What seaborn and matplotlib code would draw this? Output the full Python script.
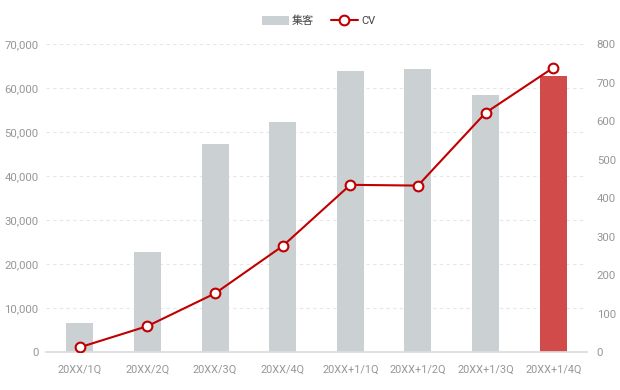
import matplotlib
matplotlib.use("Agg")
import matplotlib.pyplot as plt
from matplotlib.lines import Line2D
from matplotlib.patches import Patch
from matplotlib.ticker import FuncFormatter, MultipleLocator
import seaborn as sns
import pandas as pd

categories = ["20XX/1Q", "20XX/2Q", "20XX/3Q", "20XX/4Q",
              "20XX+1/1Q", "20XX+1/2Q", "20XX+1/3Q", "20XX+1/4Q"]
visits = [6600, 22800, 47300, 52300, 63900, 64500, 58500, 62800]
cv = [13, 68, 153, 276, 435, 433, 622, 739]
bar_label = "集客"
line_label = "CV"

sns.set_theme(style="white")
plt.rcParams["font.family"] = ["Roboto", "Noto Sans CJK JP", "DejaVu Sans"]

W, H = 620, 390
fig = plt.figure(figsize=(W / 100, H / 100), dpi=100)
left, right, top, bottom = 46, 587, 44.3, 352.3
ax = fig.add_axes([left / W, 1 - bottom / H, (right - left) / W, (bottom - top) / H])

df = pd.DataFrame({"cat": categories, "visits": visits, "cv": cv})
grey = "#cbd0d3"
red_bar = "#d24b4b"
line_red = "#c00000"
txt = "#969696"
palette = [grey] * (len(categories) - 1) + [red_bar]

sns.barplot(data=df, x="cat", y="visits", hue="cat", palette=palette,
            legend=False, width=0.4, ax=ax, saturation=1, linewidth=0)
ax.set_xlim(-0.5, len(categories) - 0.5)
ax.set_ylim(0, 70000)
ax.yaxis.set_major_locator(MultipleLocator(10000))
ax.yaxis.set_major_formatter(FuncFormatter(lambda v, p: f"{int(v):,}"))
ax.grid(axis="y", color="#e6e6e6", linestyle=(0, (3, 3)), linewidth=0.8)
ax.set_axisbelow(True)
ax.set_xlabel("")
ax.set_ylabel("")
for s in ["top", "right", "left"]:
    ax.spines[s].set_visible(False)
ax.spines["bottom"].set_color("#dcdcdc")
ax.tick_params(axis="y", length=0, labelsize=8.2, labelcolor=txt, pad=5.5)
ax.tick_params(axis="x", which="major", length=0, labelsize=7.8, labelcolor=txt, pad=9)
ax.set_xticks([i - 0.5 for i in range(len(categories) + 1)], minor=True)
ax.tick_params(axis="x", which="minor", length=4, color="#dcdcdc", width=0.8)

ax2 = ax.twinx()
ax2.set_position(ax.get_position())
sns.lineplot(x=list(range(len(categories))), y=cv, ax=ax2, color=line_red,
             linewidth=1.5, marker="o", markersize=7, markerfacecolor="white",
             markeredgecolor=line_red, markeredgewidth=1.5, sort=False)
ax2.set_ylim(0, 800)
ax2.yaxis.set_major_locator(MultipleLocator(100))
for s in ["top", "right", "left", "bottom"]:
    ax2.spines[s].set_visible(False)
ax2.tick_params(axis="y", length=0, labelsize=8.2, labelcolor=txt, pad=7)
ax2.grid(False)
ax2.set_ylabel("")

handles = [Patch(facecolor=grey, edgecolor="none"),
           Line2D([0], [0], color=line_red, linewidth=1.5, marker="o",
                  markersize=7, markerfacecolor="white", markeredgecolor=line_red,
                  markeredgewidth=1.5)]
fig.legend(handles, [bar_label, line_label], loc="center", bbox_to_anchor=(0.514, 1 - 21 / H),
           ncol=2, frameon=False, fontsize=8, labelcolor="#444444",
           handlelength=2.4, handleheight=0.8, columnspacing=1.5, handletextpad=0.3)

fig.savefig("out.png", dpi=100)
